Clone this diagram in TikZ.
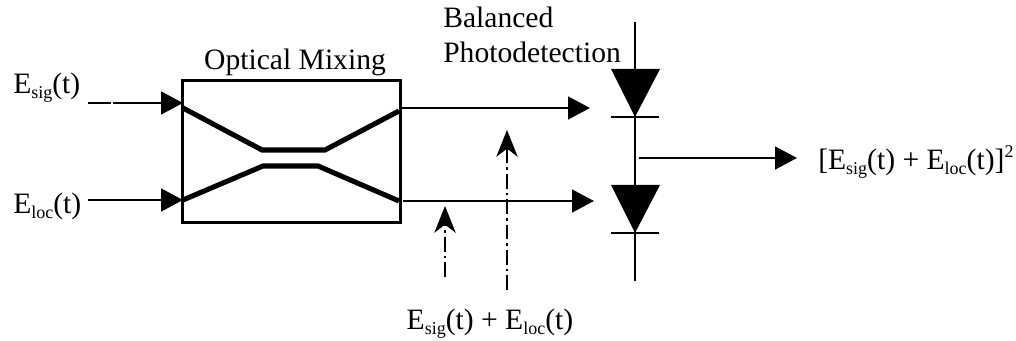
\documentclass[tikz,border=0pt]{standalone}
\usepackage{fontspec}
\setmainfont{Liberation Serif}
\usetikzlibrary{arrows.meta,positioning,calc}
\newcommand{\lowtext}[1]{\raisebox{-3.6pt}{\fontsize{13.5pt}{14pt}\selectfont #1}}
\newcommand{\Esig}{E\lowtext{sig}(t)}
\newcommand{\Eloc}{E\lowtext{loc}(t)}
\tikzset{
  label/.style={font=\fontsize{22.2pt}{26pt}\selectfont,inner sep=0pt,anchor=base west},
  beam/.style={-{Triangle[length=16.5pt,width=17pt]},line width=2pt,draw=black},
  probe/.style={-{Stealth[length=20pt,width=16pt,inset=6pt]},line width=1.4pt,
                dash pattern=on 11pt off 3pt on 2pt off 3pt},
  guide/.style={line width=3.8pt,line join=miter},
  wire/.style={line width=2.1pt},
  mixer/.style={draw,line width=2.3pt,minimum width=163pt,minimum height=107pt,inner sep=0pt}
}
\begin{document}
\begin{tikzpicture}[x=.75pt,y=-.75pt]
  \useasboundingbox (0,0) rectangle (1016,341);
  % mixer
  \node[mixer] (mix) at (291.5,151.5) {};
  \node[label,anchor=base] (mixlabel) at (295,70) {Optical Mixing};
  \draw[guide] (183,108) -- (262,150) -- (325,150) -- (399,111);
  \draw[guide] (183,200) -- (263,166) -- (318,166) -- (399,201);
  % inputs
  \node[label] (sig) at (13,94) {\Esig};
  \node[label] (loc) at (13,214) {\Eloc};
  \coordinate (sigstart) at (88,103);
  \coordinate (sigend) at (183,103);
  \coordinate (locstart) at (88,200);
  \coordinate (locend) at (183,200);
  \draw[beam,dash pattern=on 17pt off 2pt on 100pt] (sigstart) -- (sigend);
  \draw[beam] (locstart) -- (locend);
  % outputs
  \coordinate (upstart) at (400,108);
  \coordinate (upend) at (590,108);
  \coordinate (lowstart) at (403,201);
  \coordinate (lowend) at (594,201);
  \draw[beam] (upstart) -- (upend);
  \draw[beam] (lowstart) -- (lowend);
  % photodiodes
  \node[label] (bal) at (443,28) {Balanced};
  \node[label] (photo) at (443,63) {Photodetection};
  \coordinate (top) at (635,22);
  \coordinate (bot) at (635,281);
  \coordinate (mid) at (639,158);
  \coordinate (out) at (797,158);
  \draw[wire] (top) -- (bot);
  \foreach \y in {69,185} {
    \fill (611,\y) -- (660,\y) -- (635,\y+48) -- cycle;
    \draw[wire] (611,\y+48) -- (659,\y+48);
  }
  \draw[beam] (mid) -- (out);
  \node[label] (square) at (818,170) {[\Esig{} + \Eloc]\raisebox{9pt}{\fontsize{13.5pt}{14pt}\selectfont 2}};
  % sum probes
  \node[label,anchor=base] (sum) at (490,330) {\Esig{} + \Eloc};
  \coordinate (farstart) at (507,290);
  \coordinate (farend) at (507,130);
  \coordinate (nearstart) at (445,277);
  \coordinate (nearend) at (445,206);
  \draw[probe] (farstart) -- (farend);
  \draw[probe] (nearstart) -- (nearend);
\end{tikzpicture}
\end{document}
